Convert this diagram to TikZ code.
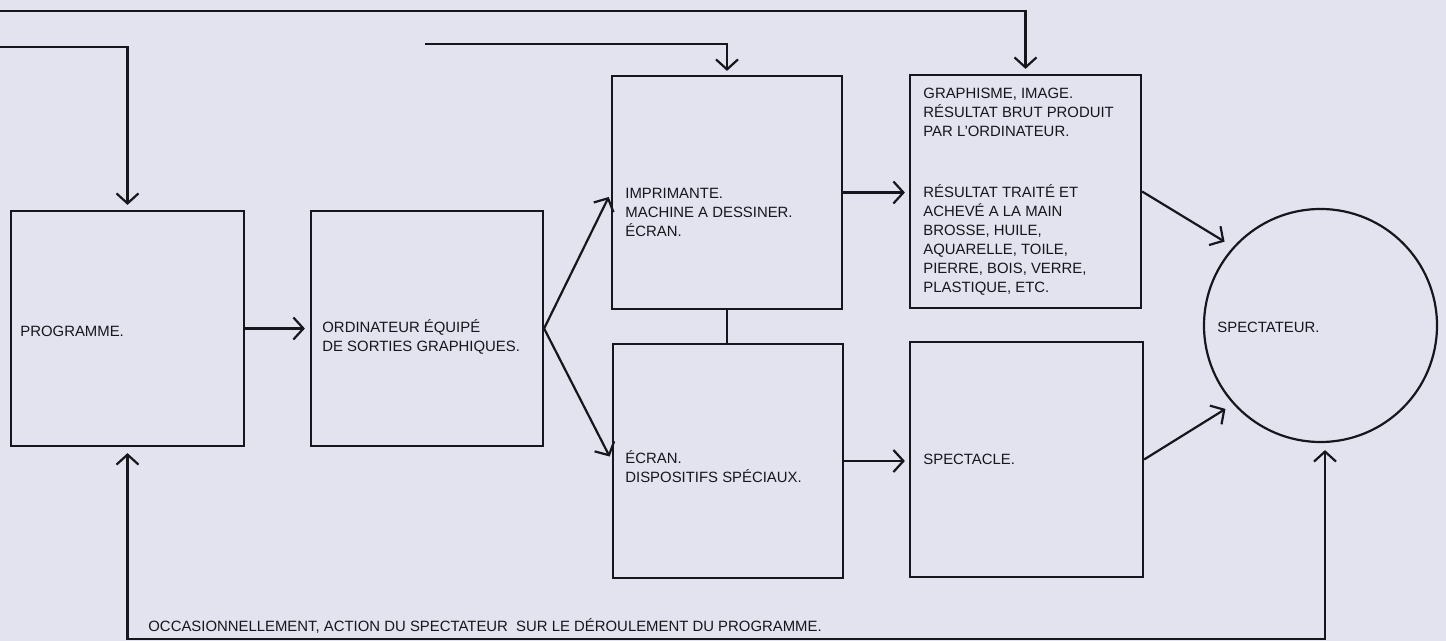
\documentclass[tikz,border=0pt]{standalone}
\usepackage{fontspec}
\setmainfont{Liberation Sans}
\usetikzlibrary{arrows.meta,calc}
\definecolor{paper}{RGB}{226,227,238}
\definecolor{ink}{RGB}{22,22,28}
\begin{document}
\begin{tikzpicture}[x=0.5pt,y=-0.5pt,
  box/.style={draw=ink,line width=1.1pt,rectangle,inner sep=0pt},
  conn/.style={draw=ink,line width=1.1pt},
  tip/.style={-{Straight Barb[length=5pt,width=11pt]}},
  arr/.style={conn,tip},
  txt/.style={anchor=north west,inner sep=0pt,align=left,text=ink,font=\fontsize{7.45}{9.5}\selectfont}]
\fill[paper] (0,0) rectangle (1446,641);
\useasboundingbox (0,0) rectangle (1446,641);

% boxes
\node[box,minimum width=116.5pt,minimum height=117.5pt] (prog)  at (127.5,328.5) {};
\node[box,minimum width=116pt,minimum height=117.5pt]   (ord)   at (427,328.5) {};
\node[box,minimum width=115pt,minimum height=116.5pt]   (imp)   at (727,192.5) {};
\node[box,minimum width=115pt,minimum height=117pt]     (ecr)   at (728,461) {};
\node[box,minimum width=115.5pt,minimum height=116.5pt] (graph) at (1025.5,191.5) {};
\node[box,minimum width=116.5pt,minimum height=117.5pt] (spec)  at (1026.5,459.5) {};
\node[box,circle,minimum size=116.5pt]                  (circ)  at (1320.5,325.5) {};

% texts
\node[txt] (tprog) at (20,323) {\strut PROGRAMME.};
\node[txt] (tord) at (322,319) {\strut ORDINATEUR ÉQUIPÉ\\\strut DE SORTIES GRAPHIQUES.};
\node[txt] (timp) at (625,185) {\strut IMPRIMANTE.\\\strut MACHINE A DESSINER.\\\strut ÉCRAN.};
\node[txt] (tecr) at (625,450) {\strut ÉCRAN.\\\strut DISPOSITIFS SPÉCIAUX.};
\node[txt] (tgra) at (923,85) {\strut GRAPHISME, IMAGE.\\\strut RÉSULTAT BRUT PRODUIT\\\strut PAR L'ORDINATEUR.};
\node[txt] (tgrb) at (923,184) {\strut RÉSULTAT TRAITÉ ET\\\strut ACHEVÉ A LA MAIN\\\strut BROSSE, HUILE,\\\strut AQUARELLE, TOILE,\\\strut PIERRE, BOIS, VERRE,\\\strut PLASTIQUE, ETC.};
\node[txt] (tspc) at (923,451) {\strut SPECTACLE.};
\node[txt] (tsptr) at (1217,319) {\strut SPECTATEUR.};
\node[txt] (tfb) at (148,618) {\strut OCCASIONNELLEMENT, ACTION DU SPECTATEUR\ \ SUR LE DÉROULEMENT DU PROGRAMME.};

% free ends
\coordinate (s1) at (0,11);
\coordinate (s2) at (0,47);
\coordinate (s3) at (425,44);
\coordinate (fb) at (0,639);

% connectors
\draw[arr,shorten >=2.5pt] (s1) -| (graph.north);
\draw[arr,shorten >=2.5pt] (s2) -| (prog.north);
\draw[arr,shorten >=2pt] (s3) -| (imp.north);
\draw[arr,shorten >=2.5pt] (prog.east) -- (ord.west);
\draw[arr,shorten >=2.5pt] (ord.east) -- (imp.west);
\draw[arr,shorten >=2.5pt] (ord.east) -- (ecr.west);
\draw[conn] (imp.south) -- (ecr.north -| imp.south);
\draw[arr,shorten >=2pt] (imp.east) -- (imp.east -| graph.west);
\draw[arr,shorten >=2pt] (ecr.east) -- (ecr.east -| spec.west);
\draw[arr,shorten >=5pt] (graph.east) -- (circ.138);
\draw[arr,shorten >=4.5pt] (spec.east) -- (circ.222);
\draw[conn,{Straight Barb[length=5pt,width=11pt]}-{Straight Barb[length=5pt,width=11pt]},shorten <=3pt,shorten >=3.5pt]
  (prog.south) -- (prog.south |- fb) -| ($(circ.south)+(4.5,0)$);
\end{tikzpicture}
\end{document}
